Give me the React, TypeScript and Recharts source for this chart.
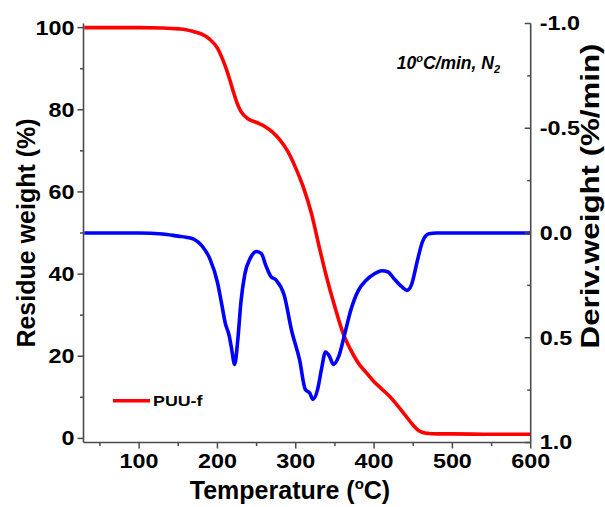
import React from 'react';
import { LineChart, Line, XAxis, YAxis, Label } from 'recharts';

// ---- data ----
const tgaTemp = [30, 60, 100, 130, 150, 160, 170, 180, 190, 200, 210, 215, 220, 225, 230, 240, 250, 260, 270, 280, 290, 300, 310, 320, 330, 340, 350, 360, 370, 380, 390, 400, 410, 420, 430, 440, 450, 455, 460, 465, 470, 480, 500, 550, 600];
const tgaWeight = [100, 100, 100, 99.9, 99.7, 99.5, 99.0, 98.4, 97.2, 95.0, 90.6, 87.8, 84.6, 81.7, 79.6, 77.7, 76.9, 76.0, 74.6, 72.6, 69.8, 65.8, 61.0, 54.8, 46.6, 38.8, 32.0, 25.8, 21.6, 18.3, 16.0, 13.8, 12.0, 10.2, 8.0, 5.6, 3.2, 2.2, 1.6, 1.3, 1.2, 1.1, 1.1, 1.0, 1.0];

const dtgTemp = [30, 60, 100, 130, 150, 160, 170, 180, 190, 200, 205, 210, 215, 218, 222, 226, 230, 235, 242, 250, 256, 262, 268, 275, 285, 295, 305, 312, 318, 322, 328, 333, 338, 343, 348, 355, 362, 370, 380, 390, 400, 410, 418, 425, 435, 442, 448, 455, 462, 470, 480, 500, 550, 600];
const dtgDeriv = [0, 0, 0, 0.005, 0.015, 0.02, 0.03, 0.06, 0.12, 0.235, 0.33, 0.43, 0.49, 0.55, 0.627, 0.51, 0.33, 0.196, 0.12, 0.088, 0.098, 0.157, 0.206, 0.225, 0.294, 0.47, 0.607, 0.745, 0.765, 0.794, 0.745, 0.647, 0.568, 0.588, 0.627, 0.588, 0.49, 0.372, 0.274, 0.225, 0.196, 0.18, 0.186, 0.216, 0.255, 0.274, 0.245, 0.137, 0.04, 0.004, 0, 0, 0, 0];

const xTicks = [50, 100, 150, 200, 250, 300, 350, 400, 450, 500, 550, 600];
const xLabeled = [100, 200, 300, 400, 500, 600];
const leftTicks = [0, 10, 20, 30, 40, 50, 60, 70, 80, 90, 100];
const leftLabeled = [0, 20, 40, 60, 80, 100];
const rightTicks = [-1, -0.75, -0.5, -0.25, 0, 0.25, 0.5, 0.75, 1];
const rightLabeled = [-1, -0.5, 0, 0.5, 1];

const seriesName = 'PUU-f';
const xTitle = 'Temperature (';
const leftTitle = 'Residue weight (%)';
const rightTitle = 'Deriv.weight (%/min)';

const tga = tgaTemp.map((t, i) => ({ t, w: tgaWeight[i] }));
const dtg = dtgTemp.map((t, i) => ({ t, d: dtgDeriv[i] }));

// ---- styles ----
const AXIS = '#4a4a4a';
const ARIAL = "'Liberation Sans', Arial, sans-serif";
const TICKFS = 20.5;
const STRETCH = 1.14;

const W = 605;
const H = 507;

const LeftTick = (p: any) => {
  const { x, y, payload } = p;
  const v = payload.value;
  const major = leftLabeled.includes(v);
  return (
    <g>
      <line x1={x - (major ? 6 : 3.5)} x2={x} y1={y} y2={y} stroke={AXIS} strokeWidth={1.5} />
      {major && (
        <text transform={`translate(${x - 9},${y}) scale(${STRETCH},1)`} textAnchor="end" dominantBaseline="central"
          fontFamily={ARIAL} fontWeight="bold" fontSize={TICKFS} fill="#000">{v}</text>
      )}
    </g>
  );
};

const RightTick = (p: any) => {
  const { x, y, payload } = p;
  const v = payload.value;
  const major = rightLabeled.includes(v);
  return (
    <g>
      <line x1={x - (major ? 6 : 3.5)} x2={x} y1={y} y2={y} stroke={AXIS} strokeWidth={1.5} />
      {major && (
        <text transform={`translate(${x + 9},${y}) scale(${STRETCH},1)`} textAnchor="start" dominantBaseline="central"
          fontFamily={ARIAL} fontWeight="bold" fontSize={TICKFS} fill="#000">{v.toFixed(1)}</text>
      )}
    </g>
  );
};

const BottomTick = (p: any) => {
  const { x, y, payload } = p;
  const v = payload.value;
  const major = xLabeled.includes(v);
  return (
    <g>
      <line x1={x} x2={x} y1={y} y2={y + (major ? 6 : 3.5)} stroke={AXIS} strokeWidth={1.5} />
      {major && (
        <text transform={`translate(${x},${y + 25}) scale(${STRETCH},1)`} textAnchor="middle"
          fontFamily={ARIAL} fontWeight="bold" fontSize={TICKFS} fill="#000">{v}</text>
      )}
    </g>
  );
};

export default function App() {
  return (
    <div style={{ position: 'absolute', left: 0, top: 0, width: W, height: H, overflow: 'hidden', background: '#fff' }}>
      <LineChart width={W} height={H} margin={{ top: 23.5, right: 0, bottom: 0, left: 0 }}>
        <XAxis xAxisId="b" type="number" dataKey="t" domain={[29, 600]} ticks={xTicks} allowDataOverflow
          height={64.5} tickSize={0} tickMargin={0} tickLine={false} tick={BottomTick} interval={0}
          axisLine={{ stroke: AXIS, strokeWidth: 1.6 }}>
          <Label content={() => (
            <text x={290} y={499} textAnchor="middle" fontFamily={ARIAL} fontWeight="bold" fontSize={25} fill="#000">
              {xTitle}<tspan fontSize={15} dy={-10}>o</tspan><tspan dy={10}>C)</tspan>
            </text>
          )} />
        </XAxis>
        <XAxis xAxisId="top" orientation="top" type="number" domain={[29, 600]} allowDataOverflow height={0}
          tick={false} tickLine={false} axisLine={{ stroke: AXIS, strokeWidth: 1.6 }} />
        <YAxis yAxisId="l" domain={[-1, 101]} ticks={leftTicks} allowDataOverflow width={83.5}
          tickSize={0} tickMargin={0} tickLine={false} tick={LeftTick} interval={0}
          axisLine={{ stroke: AXIS, strokeWidth: 1.6 }}>
          <Label content={() => (
            <text transform="translate(26,233) rotate(-90)" textAnchor="middle" dominantBaseline="central"
              fontFamily={ARIAL} fontWeight="bold" fontSize={25} fill="#000">{leftTitle}</text>
          )} />
        </YAxis>
        <YAxis yAxisId="r" orientation="right" domain={[-1, 1]} reversed ticks={rightTicks} allowDataOverflow width={74.3}
          tickSize={0} tickMargin={0} tickLine={false} tick={RightTick} interval={0}
          axisLine={{ stroke: AXIS, strokeWidth: 1.6 }}>
          <Label content={() => (
            <text transform="translate(590,196) rotate(-90) scale(1.25,1)" textAnchor="middle" dominantBaseline="central"
              fontFamily={ARIAL} fontWeight="bold" fontSize={25} fill="#000">{rightTitle}</text>
          )} />
        </YAxis>
        <Line xAxisId="b" yAxisId="l" data={tga} dataKey="w" name={seriesName} type="monotone" stroke="#ff0000"
          strokeWidth={3.6} dot={false} activeDot={false} isAnimationActive={false} />
        <Line xAxisId="b" yAxisId="r" data={dtg} dataKey="d" name="DTG" type="monotone" stroke="#0000ff"
          strokeWidth={3.6} dot={false} activeDot={false} isAnimationActive={false} />
      </LineChart>
      <svg width={W} height={H} style={{ position: 'absolute', left: 0, top: 0, pointerEvents: 'none' }}>
        <line x1={113} x2={150} y1={400.7} y2={400.7} stroke="#ff0000" strokeWidth={3.6} />
        <text transform="translate(153,400.7) scale(1.15,1)" dominantBaseline="central" fontFamily={ARIAL}
          fontWeight="bold" fontSize={15.5} fill="#000">{seriesName}</text>
        <text x={396.7} y={69.3} fontFamily={ARIAL} fontWeight="bold" fontStyle="italic" fontSize={17.5} fill="#000">
          10<tspan fontSize={11} dy={-7}>o</tspan><tspan dy={7}>C/min, N</tspan><tspan fontSize={11} dy={4}>2</tspan>
        </text>
      </svg>
    </div>
  );
}
